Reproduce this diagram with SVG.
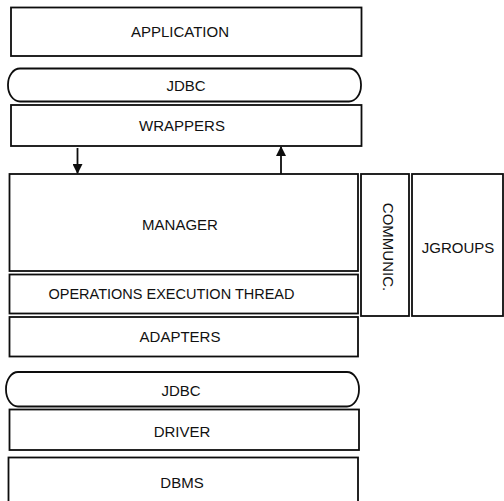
<svg xmlns="http://www.w3.org/2000/svg" width="504" height="501" viewBox="0 0 504 501">
  <defs>
    <style>
      .box { fill: #ffffff; stroke: #0d0d0d; stroke-width: 1.8; }
      .lbl { font-family: "Liberation Sans", Arial, sans-serif; font-size: 15px; fill: #111111; text-anchor: middle; }
      .wire { stroke: #0d0d0d; stroke-width: 1.8; fill: none; }
    </style>
    <marker id="head" viewBox="0 0 10 10" refX="9" refY="5" markerWidth="11" markerHeight="10" markerUnits="userSpaceOnUse" orient="auto">
      <path d="M0,0 L10,5 L0,10 Z" fill="#0d0d0d"/>
    </marker>
  </defs>
  <rect width="504" height="501" fill="#ffffff"/>

  <g id="application">
    <rect class="box" x="11" y="7.5" width="350.5" height="48.5"/>
    <text class="lbl" x="180" y="37">APPLICATION</text>
  </g>

  <g id="jdbc-top">
    <rect class="box" x="8" y="68.5" width="353" height="33" rx="12" ry="16"/>
    <text class="lbl" x="186" y="90.5">JDBC</text>
  </g>

  <g id="wrappers">
    <rect class="box" x="11" y="105" width="350.5" height="41"/>
    <text class="lbl" x="182" y="131">WRAPPERS</text>
  </g>

  <g id="manager">
    <rect class="box" x="9.5" y="174" width="348.5" height="97"/>
    <text class="lbl" x="180" y="229.5">MANAGER</text>
  </g>

  <g id="operations-thread">
    <rect class="box" x="9.5" y="274.5" width="348.5" height="39"/>
    <text class="lbl" x="171.5" y="298.5" style="font-size:14.5px">OPERATIONS EXECUTION THREAD</text>
  </g>

  <g id="adapters">
    <rect class="box" x="9.5" y="317" width="348.5" height="39.5"/>
    <text class="lbl" x="180" y="342">ADAPTERS</text>
  </g>

  <g id="communic">
    <rect class="box" x="361" y="174" width="48" height="142"/>
    <text class="lbl" transform="translate(383,247) rotate(90)" x="0" y="0">COMMUNIC.</text>
  </g>

  <g id="jgroups">
    <rect class="box" x="412" y="174" width="91" height="142"/>
    <text class="lbl" x="458" y="252.5">JGROUPS</text>
  </g>

  <g id="jdbc-bottom">
    <rect class="box" x="6" y="372" width="353" height="34.5" rx="12" ry="17"/>
    <text class="lbl" x="181" y="395.5">JDBC</text>
  </g>

  <g id="driver">
    <rect class="box" x="9.5" y="409.5" width="349.5" height="40.5"/>
    <text class="lbl" x="182" y="436.5">DRIVER</text>
  </g>

  <g id="dbms">
    <rect class="box" x="8.5" y="457.5" width="349.5" height="50"/>
    <text class="lbl" x="182" y="487.5">DBMS</text>
  </g>

  <g id="connectors">
    <line class="wire" x1="77.5" y1="148" x2="77.5" y2="173" marker-end="url(#head)"/>
    <line class="wire" x1="281" y1="174" x2="281" y2="147" marker-end="url(#head)"/>
  </g>
</svg>
